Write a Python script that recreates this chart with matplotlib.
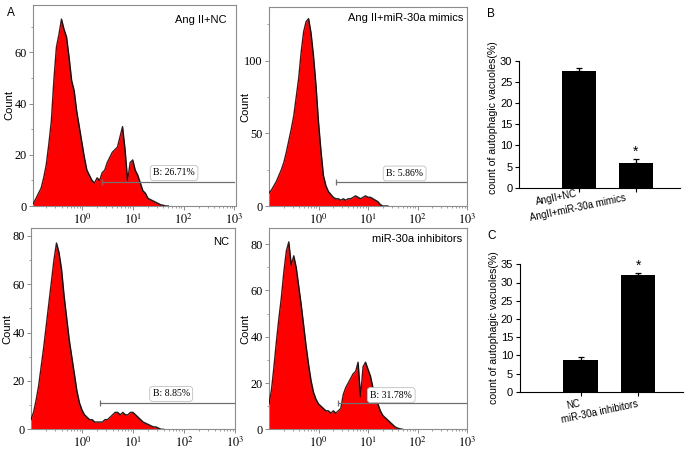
import numpy as np
import matplotlib.pyplot as plt
import matplotlib.transforms as mtransforms
from matplotlib.ticker import FixedLocator, NullFormatter, AutoMinorLocator

plt.rcParams['font.family'] = 'Liberation Sans'
plt.rcParams['mathtext.fontset'] = 'stix'

# ---- histogram data (counts, one value every 0.05 in log10 starting at 10^-1) ----
hist_start = -1.0
hist_step = 0.05

angii_nc = [0, 1, 3, 5, 7, 11, 16, 24, 33, 49, 62, 67, 73, 69, 66, 58, 49, 45, 37, 31,
            25, 19, 14, 12, 10, 9, 11, 10, 13, 14, 17, 19, 21, 22, 23, 27, 31, 22, 10, 17,
            18, 14, 12, 9, 6, 5, 3, 2.5, 2, 1.5, 1, 0.5, 0.3, 0, 0]
angii_mimics = [9, 11, 14, 17, 21, 25, 30, 37, 45, 53, 62, 75, 88, 106, 120, 127, 129, 119, 103, 83,
                58, 38, 21, 14, 10, 8, 6, 5, 5, 4, 5, 4, 5, 5, 6, 7, 6, 5, 6, 7,
                6, 6, 5, 4, 3, 1, 0, 0, 0]
nc = [4, 7, 12, 18, 26, 34, 43, 52, 61, 70, 77, 73, 66, 55, 46, 37, 30, 23, 16, 11,
      8, 6, 5, 4, 4, 3, 3, 3, 3, 4, 4, 5, 6, 7, 7, 6, 7, 6, 6, 7,
      7, 6, 5, 4, 3, 2.5, 2, 1.5, 1, 1, 0.5, 0, 0]
inhibitors = [11, 17, 27, 38, 48, 57, 68, 77, 81, 71, 75, 70, 62, 54, 45, 36, 28, 21, 16, 13,
              11, 10, 9, 8, 8, 7, 8, 7, 8, 9, 15, 18, 20, 22, 24, 25, 29, 14, 27, 29,
              26, 23, 18, 14, 11, 8, 6, 5, 4, 3, 2, 1, 0.5, 0.2, 0]

panel_titles = ['Ang II+NC', 'Ang II+miR-30a mimics', 'NC', 'miR-30a inhibitors']
gate_labels = ['B: 26.71%', 'B: 5.86%', 'B: 8.85%', 'B: 31.78%']
gate_start = [2.5, 2.25, 2.3, 2.5]
gate_level = [9.5, 16.8, 10.7, 11.3]
gate_label_x = [65, 55, 56, 29.5]
gate_label_y = [12.9, 22.4, 14.6, 14.8]
count_max = [78.5, 137, 83.2, 87]
count_ticks = [[0, 20, 40, 60], [0, 50, 100], [0, 20, 40, 60, 80], [0, 20, 40, 60, 80]]

# ---- bar chart data ----
b_groups = ['AngII+NC', 'AngII+miR-30a mimics']
b_values = [27.5, 5.8]
b_errors = [0.8, 1.0]
c_groups = ['NC', 'miR-30a inhibitors']
c_values = [8.8, 32.0]
c_errors = [0.6, 0.6]

fig = plt.figure(figsize=(6.97, 4.49), dpi=100)

W, H = 697.0, 449.0
def rect(l, t, r, b):
    return [l / W, 1 - b / H, (r - l) / W, (b - t) / H]

hist_rects = [rect(33, 5, 236, 206), rect(269, 7, 467, 206),
              rect(31, 228, 235, 429.3), rect(269, 228, 467, 429.3)]
hist_xlims = [(10 ** -0.96, 10 ** 3.03), (0.1, 1000), (0.1, 1000), (0.1, 1000)]
title_pos = [(0.956, 0.95), (0.98, 0.97), (0.97, 0.955), (0.975, 0.97)]
hist_data = [angii_nc, angii_mimics, nc, inhibitors]

frame_col = '#8c8c8c'
serif = 'Liberation Serif'

for i, counts in enumerate(hist_data):
    ax = fig.add_axes(hist_rects[i])
    x = 10 ** (hist_start + hist_step * np.arange(len(counts)))
    ax.fill_between(x, 0, counts, color='#ff0000', lw=0, zorder=2)
    ax.plot(x, counts, color='black', lw=1.0, alpha=0.85, zorder=3)

    ax.set_xscale('log')
    ax.set_xlim(*hist_xlims[i])
    ax.set_ylim(0, count_max[i])

    # gate
    ax.plot([gate_start[i], 1000], [gate_level[i], gate_level[i]], color='#707070', lw=0.9, zorder=4)
    ax.plot([gate_start[i]], [gate_level[i]], marker='|', ms=5, mew=0.9, color='#707070', zorder=4)
    ax.text(gate_label_x[i], gate_label_y[i], gate_labels[i], ha='center', va='center',
            family=serif, fontsize=7, zorder=5,
            bbox=dict(boxstyle='round,pad=0.3', fc='white', ec='#c0c0c0', lw=0.6))

    ax.text(title_pos[i][0], title_pos[i][1], panel_titles[i], transform=ax.transAxes,
            ha='right', va='top', fontsize=8)

    ax.xaxis.set_major_locator(FixedLocator([1, 10, 100, 1000]))
    ax.set_xticklabels([r'$10^{0}$', r'$10^{1}$', r'$10^{2}$', r'$10^{3}$'])
    ax.xaxis.set_minor_locator(FixedLocator([m * 10.0 ** d for d in range(-1, 3) for m in range(2, 10)]))
    ax.xaxis.set_minor_formatter(NullFormatter())
    ax.set_yticks(count_ticks[i])
    ax.yaxis.set_minor_locator(AutoMinorLocator(2))
    for lab in ax.get_yticklabels():
        lab.set_family(serif)
    ax.tick_params(which='major', direction='out', length=3, width=0.7, color=frame_col,
                   labelsize=8.8, pad=1.5)
    ax.tick_params(which='minor', direction='out', length=1.5, width=0.6, color=frame_col)
    for sp in ax.spines.values():
        sp.set_color(frame_col)
        sp.set_linewidth(0.8)
    ax.set_ylabel('Count', fontsize=8)
    ax.yaxis.set_label_coords(-0.093, 0.5)

# ---- bar charts ----
def bar_panel(r, groups, values, errors, ymax, yticks, label_pos, label_y_center):
    ax = fig.add_axes(r)
    pos = [1, 2]
    ax.bar(pos, values, width=0.6, color='black', zorder=2)
    ax.errorbar(pos, values, yerr=[[0, 0], errors], fmt='none', ecolor='black',
                elinewidth=0.9, capsize=2.5, capthick=0.9)
    ax.text(2, values[1] + errors[1] + 0.055 * ymax, '*', ha='center', va='center', fontsize=10)
    ax.set_xlim(-0.056, 2.78)
    ax.set_ylim(0, ymax)
    ax.set_yticks(yticks)
    ax.set_xticks(pos)
    ax.set_xticklabels(['', ''])
    ax.spines['top'].set_visible(False)
    ax.spines['right'].set_visible(False)
    for sp in ['left', 'bottom']:
        ax.spines[sp].set_linewidth(0.8)
    ax.tick_params(direction='out', length=3, width=0.8, labelsize=8, pad=2)
    trans = mtransforms.blended_transform_factory(ax.transData, ax.transAxes)
    for g, (lx, ly) in zip(groups, label_pos):
        ax.text(lx, ly, g, transform=trans, ha='right', va='baseline', rotation=12,
                rotation_mode='anchor', fontsize=7)
    ax.set_ylabel('count of autophagic vacuoles(%)', fontsize=7.6)
    ax.yaxis.set_label_coords(-0.13, label_y_center)
    return ax

bar_panel(rect(519.3, 60.7, 680, 187.7), b_groups, b_values, b_errors, 30,
          [0, 5, 10, 15, 20, 25, 30], [(0.98, -0.068), (1.84, -0.1)], 0.55)
bar_panel(rect(520, 264.3, 683, 391.7), c_groups, c_values, c_errors, 35,
          [0, 5, 10, 15, 20, 25, 30, 35], [(1.0, -0.11), (2.0, -0.12)], 0.5)

# panel letters
fig.text(7 / W, 1 - 7 / H, 'A', ha='left', va='top', fontsize=8.5)
fig.text(487 / W, 1 - 8 / H, 'B', ha='left', va='top', fontsize=8.5)
fig.text(487 / W, 1 - 230 / H, 'C', ha='left', va='top', fontsize=8.5)

plt.savefig('out.png', dpi=100)
